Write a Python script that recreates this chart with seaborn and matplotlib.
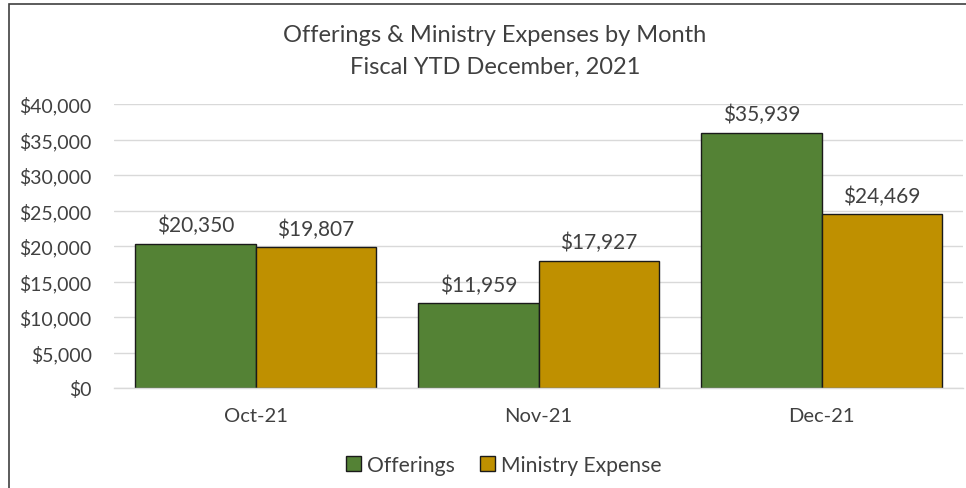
import matplotlib
matplotlib.use("Agg")
import matplotlib.pyplot as plt
from matplotlib.patches import Rectangle, Patch
from matplotlib.ticker import FuncFormatter, FixedLocator
import pandas as pd
import seaborn as sns

months = ["Oct-21", "Nov-21", "Dec-21"]
offerings = [20350, 11959, 35939]
ministry_expense = [19807, 17927, 24469]
series_names = ["Offerings", "Ministry Expense"]
colors = ["#548235", "#BF9000"]

df = pd.DataFrame({
    "month": months * 2,
    "series": [series_names[0]] * 3 + [series_names[1]] * 3,
    "value": offerings + ministry_expense,
})

sns.set_theme(style="white")
plt.rcParams["font.family"] = ["Lato", "DejaVu Sans"]
text_color = "#404040"

fig = plt.figure(figsize=(9.66, 4.89), dpi=100)
ax = fig.add_axes([114 / 966, 1 - 389 / 489, (963 - 114) / 966, (389 - 105) / 489])

sns.barplot(data=df, x="month", y="value", hue="series", palette=colors,
            saturation=1, width=0.85, edgecolor="#1a1a1a", linewidth=1.0,
            ax=ax, legend=False)

ax.set_ylim(0, 40000)
ax.set_xlim(-0.5, 2.5)
ax.yaxis.set_major_locator(FixedLocator(range(0, 40001, 5000)))
ax.yaxis.set_major_formatter(FuncFormatter(lambda v, p: f"${v:,.0f}"))
ax.grid(axis="y", color="#d9d9d9", linewidth=1)
ax.set_axisbelow(True)
for s in ["top", "right", "left"]:
    ax.spines[s].set_visible(False)
ax.spines["bottom"].set_color("#d9d9d9")
ax.spines["bottom"].set_linewidth(1)

ax.set_xlabel("")
ax.set_ylabel("")
ax.tick_params(axis="y", length=0, pad=16, labelsize=14, labelcolor=text_color)
ax.tick_params(axis="x", which="major", length=0, pad=14, labelsize=14.5, labelcolor=text_color)
ax.xaxis.set_minor_locator(FixedLocator([-0.5, 0.5, 1.5, 2.5]))
ax.tick_params(axis="x", which="minor", length=6, color="#d9d9d9", width=1)

for cont in ax.containers:
    labels = [f"${v:,.0f}" for v in cont.datavalues]
    ax.bar_label(cont, labels=labels, padding=6, fontsize=15, color=text_color)

fig.text(495 / 966, 1 - 35 / 489, "Offerings & Ministry Expenses by Month",
         ha="center", va="center", fontsize=17, color=text_color)
fig.text(495 / 966, 1 - 67 / 489, "Fiscal YTD December, 2021",
         ha="center", va="center", fontsize=17, color=text_color)

handles = [Patch(facecolor=c, edgecolor="#1a1a1a", label=n) for c, n in zip(colors, series_names)]
fig.legend(handles=handles, loc="center", bbox_to_anchor=(504 / 966, 1 - 466 / 489), ncol=2,
           frameon=False, fontsize=15.2, handlelength=0.7, handleheight=0.7,
           handletextpad=0.3, columnspacing=1.2, labelcolor=text_color)

fig.patches.append(Rectangle((9 / 966, -0.1), 1.2, 1 - 5 / 489 + 0.1,
                             transform=fig.transFigure, fill=False,
                             edgecolor="#404040", linewidth=1.2, figure=fig))

fig.savefig("out.png", dpi=100)
